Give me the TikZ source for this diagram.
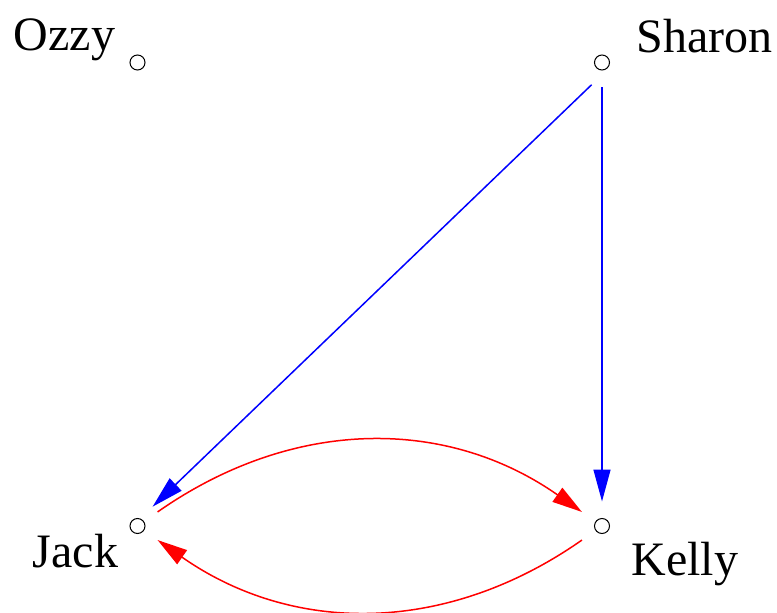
\documentclass[tikz,border=0pt]{standalone}
\usepackage{fontspec}
\setmainfont{Liberation Serif}
\usetikzlibrary{arrows.meta}
\begin{document}
\begin{tikzpicture}[x=1pt,y=-1pt,
  vert/.style={draw=black,circle,line width=1pt,minimum size=15pt,inner sep=0pt,outer sep=17pt},
  lbl/.style={anchor=base,inner sep=0pt,font=\fontsize{48}{52}\selectfont},
  bluearc/.style={draw=blue,line width=1.5pt,-{Triangle[length=32pt,width=17pt]}},
  redarc/.style={draw=red,line width=1.5pt,-{Triangle[length=30pt,width=17pt]}}]
\useasboundingbox (0,0) rectangle (777,613);
\node[vert] (ozzy) at (137.5,62.5) {};
\node[vert] (sharon) at (602,62.5) {};
\node[vert] (jack) at (137.5,526) {};
\node[vert] (kelly) at (602,526) {};
\node[lbl] (ozzyl) at (64.5,50) {Ozzy};
\node[lbl] (sharonl) at (704.5,52) {Sharon};
\node[lbl] (jackl) at (75.5,567) {Jack};
\node[lbl] (kellyl) at (685,575) {Kelly};
\draw[bluearc] (sharon.245) -- (jack.52);
\draw[bluearc] (sharon) -- (kelly);
\draw[redarc] (jack) to[out=35,in=145,looseness=1] (kelly);
\draw[redarc] (kelly) to[out=215,in=325,looseness=1] (jack);
\end{tikzpicture}
\end{document}
